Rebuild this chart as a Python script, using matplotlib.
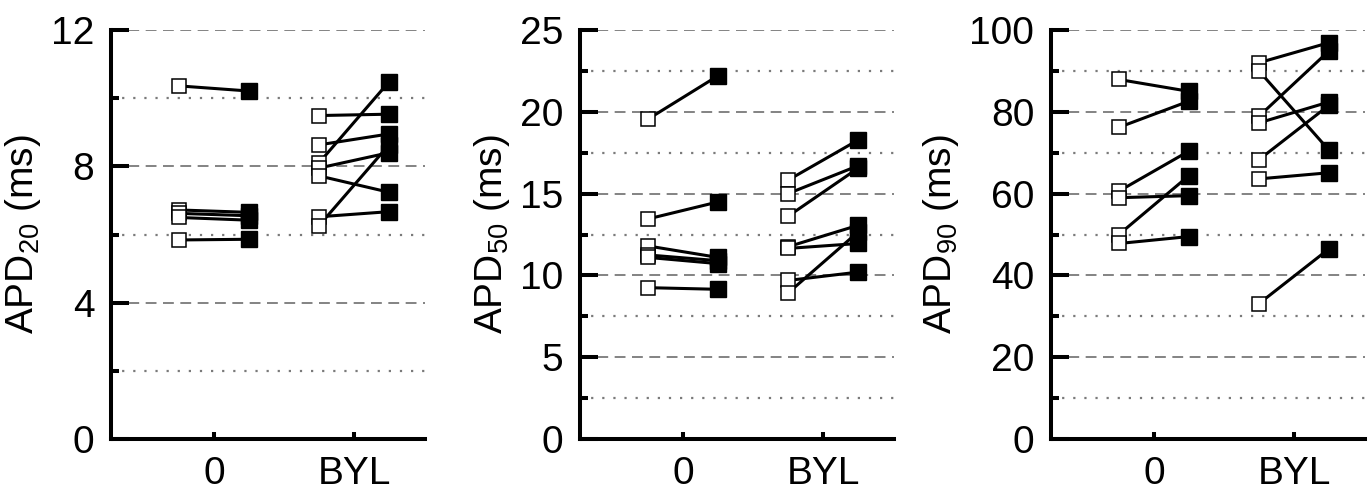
"""Paired APD20 / APD50 / APD90 before-after plots for control (0) and BYL."""

import matplotlib
matplotlib.use("Agg")
import matplotlib.pyplot as plt
from matplotlib.ticker import MultipleLocator

plt.rcParams["font.family"] = ["Liberation Sans", "DejaVu Sans"]
plt.rcParams["mathtext.fontset"] = "custom"
plt.rcParams["mathtext.rm"] = "Liberation Sans"
plt.rcParams["mathtext.it"] = "Liberation Sans"

groups = ["0", "BYL"]

# APD20 (ms): open = before, filled = after
apd20_ctrl_before = [10.36, 6.72, 6.62, 6.50, 5.84]
apd20_ctrl_after = [10.21, 6.65, 6.55, 6.42, 5.86]
apd20_byl_before = [9.49, 8.63, 8.10, 7.95, 7.72, 6.52, 6.26]
apd20_byl_after = [9.53, 8.95, 10.48, 8.40, 7.24, 6.67, 8.63]

# APD50 (ms)
apd50_ctrl_before = [19.55, 13.45, 11.80, 11.25, 11.10, 9.25]
apd50_ctrl_after = [22.20, 14.49, 11.10, 10.90, 10.72, 9.15]
apd50_byl_before = [15.82, 15.00, 13.61, 11.75, 11.65, 9.69, 8.92]
apd50_byl_after = [18.27, 16.70, 16.55, 13.06, 11.95, 10.20, 12.65]

# APD90 (ms)
apd90_ctrl_before = [87.9, 76.2, 60.6, 59.0, 50.0, 47.8]
apd90_ctrl_after = [85.0, 82.6, 70.4, 59.5, 64.4, 49.5]
apd90_byl_before = [92.0, 90.0, 78.9, 77.3, 68.3, 63.6, 33.1]
apd90_byl_after = [96.9, 70.6, 94.9, 82.4, 81.6, 65.1, 46.5]

FS = 28
OFFSET = 0.25


def draw_panel(ax, ctrl, byl, ymax, major, minor, sub):
    for x0, (before, after) in enumerate([ctrl, byl]):
        for b, a in zip(before, after):
            ax.plot([x0 - OFFSET, x0 + OFFSET], [b, a], color="black", lw=2.2, zorder=3)
        ax.plot([x0 - OFFSET] * len(before), before, ls="none", marker="s", ms=10.5,
                mfc="white", mec="black", mew=1.1, zorder=4)
        ax.plot([x0 + OFFSET] * len(after), after, ls="none", marker="s", ms=11,
                mfc="black", mec="black", mew=1.0, zorder=5)

    ax.set_xlim(-0.735, 1.507)
    ax.set_ylim(0, ymax)
    ax.set_xticks([0, 1])
    ax.set_xticklabels(groups)
    ax.yaxis.set_major_locator(MultipleLocator(major))
    ax.yaxis.set_minor_locator(MultipleLocator(minor))

    y = minor
    while y <= ymax + 1e-9:
        if abs(y / major - round(y / major)) < 1e-6:
            ax.axhline(y, color="#7a7a7a", lw=1.3, ls=(0, (6.0, 3.6)), zorder=1)
        else:
            ax.axhline(y, color="#7a7a7a", lw=1.6, ls=(0, (1.0, 4.0)), zorder=1)
        y += minor

    for side in ("top", "right"):
        ax.spines[side].set_visible(False)
    for side in ("left", "bottom"):
        ax.spines[side].set_linewidth(2.9)

    ax.tick_params(axis="y", which="major", direction="in", length=13, width=2.9,
                   labelsize=FS, pad=12)
    ax.tick_params(axis="y", which="minor", direction="in", length=5.5, width=2.9)
    ax.tick_params(axis="x", which="major", direction="in", length=5, width=2.9,
                   labelsize=FS, pad=12)
    ax.set_ylabel(r"APD$_{\mathrm{%s}}$ (ms)" % sub, fontsize=FS, labelpad=6)


fig = plt.figure(figsize=(13.72, 4.97), dpi=100)
lefts = [111 / 1372, 580 / 1372, 1051 / 1372]
width = 314 / 1372
bottom = 1 - 439 / 497
height = (439 - 30) / 497
axes = [fig.add_axes([l, bottom, width, height]) for l in lefts]

draw_panel(axes[0], (apd20_ctrl_before, apd20_ctrl_after),
           (apd20_byl_before, apd20_byl_after), 12, 4, 2, "20")
draw_panel(axes[1], (apd50_ctrl_before, apd50_ctrl_after),
           (apd50_byl_before, apd50_byl_after), 25, 5, 2.5, "50")
draw_panel(axes[2], (apd90_ctrl_before, apd90_ctrl_after),
           (apd90_byl_before, apd90_byl_after), 100, 20, 10, "90")

fig.savefig("out.png", dpi=100)
